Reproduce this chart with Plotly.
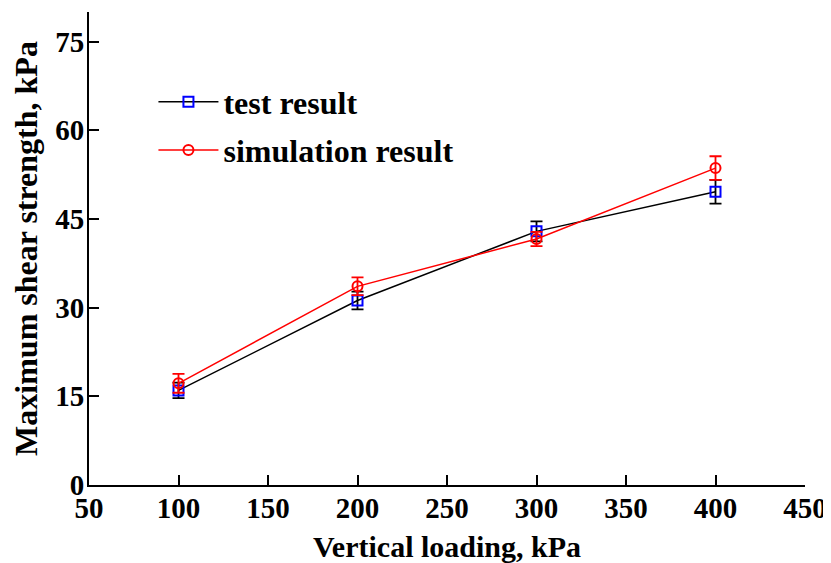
import plotly.graph_objects as go

loading = [100, 200, 300, 400]
test_vals = [16.0, 31.2, 42.9, 49.6]
test_err = [1.3, 1.5, 1.7, 2.0]
sim_vals = [17.2, 33.6, 41.6, 53.6]
sim_err = [1.6, 1.5, 1.2, 2.0]
x_ticks = [50, 100, 150, 200, 250, 300, 350, 400, 450]
y_ticks = [0, 15, 30, 45, 60, 75]

FONT = "Liberation Serif"

fig = go.Figure()
fig.add_trace(go.Scatter(
    x=loading, y=test_vals, name="<b>test result</b>", mode="lines+markers",
    line=dict(color="black", width=1.5),
    marker=dict(symbol="square-open", size=10, color="blue", line=dict(width=2, color="blue")),
    error_y=dict(type="data", array=test_err, visible=True, color="black", thickness=1.8, width=6),
    legend="legend", showlegend=True,
))
fig.add_trace(go.Scatter(
    x=loading, y=sim_vals, name="<b>simulation result</b>", mode="lines+markers",
    line=dict(color="red", width=1.5),
    marker=dict(symbol="circle-open", size=10, color="red", line=dict(width=2, color="red")),
    error_y=dict(type="data", array=sim_err, visible=True, color="red", thickness=1.8, width=6),
    legend="legend2", showlegend=True,
))

tick_font = dict(family=FONT, size=29, color="black")
leg_font = dict(family=FONT, size=32, color="black")
fig.update_layout(
    width=823, height=555,
    margin=dict(l=81, r=26, t=4, b=78),
    paper_bgcolor="white", plot_bgcolor="white",
    font=dict(family=FONT, size=29, color="black"),
    showlegend=True,
    legend=dict(x=0.09, y=0.810, xanchor="left", yanchor="middle", itemwidth=60,
                bgcolor="rgba(0,0,0,0)", font=leg_font),
    legend2=dict(x=0.09, y=0.708, xanchor="left", yanchor="middle", itemwidth=60,
                 bgcolor="rgba(0,0,0,0)", font=leg_font),
    xaxis=dict(
        range=[50, 450], tickvals=x_ticks, ticktext=[f"<b>{v}</b>" for v in x_ticks],
        showline=True, linecolor="black", linewidth=2, mirror=False,
        ticks="inside", ticklen=10, tickwidth=2, tickcolor="black",
        showgrid=False, zeroline=False, automargin=False, ticklabelstandoff=-4,
        tickfont=tick_font,
        title=dict(text="<b>Vertical loading, kPa</b>", font=dict(family=FONT, size=30, color="black"), standoff=14),
    ),
    yaxis=dict(
        range=[0, 80], tickvals=y_ticks, ticktext=[f"<b>{v}</b>" for v in y_ticks],
        showline=True, linecolor="black", linewidth=2, mirror=False,
        ticks="inside", ticklen=10, tickwidth=2, tickcolor="black",
        showgrid=False, zeroline=False, automargin=False, ticklabelstandoff=-3,
        tickfont=tick_font,
        title=dict(text="<b>Maximum shear strength, kPa</b>", font=dict(family=FONT, size=32, color="black"), standoff=8),
    ),
)

fig.write_html("out.html")
